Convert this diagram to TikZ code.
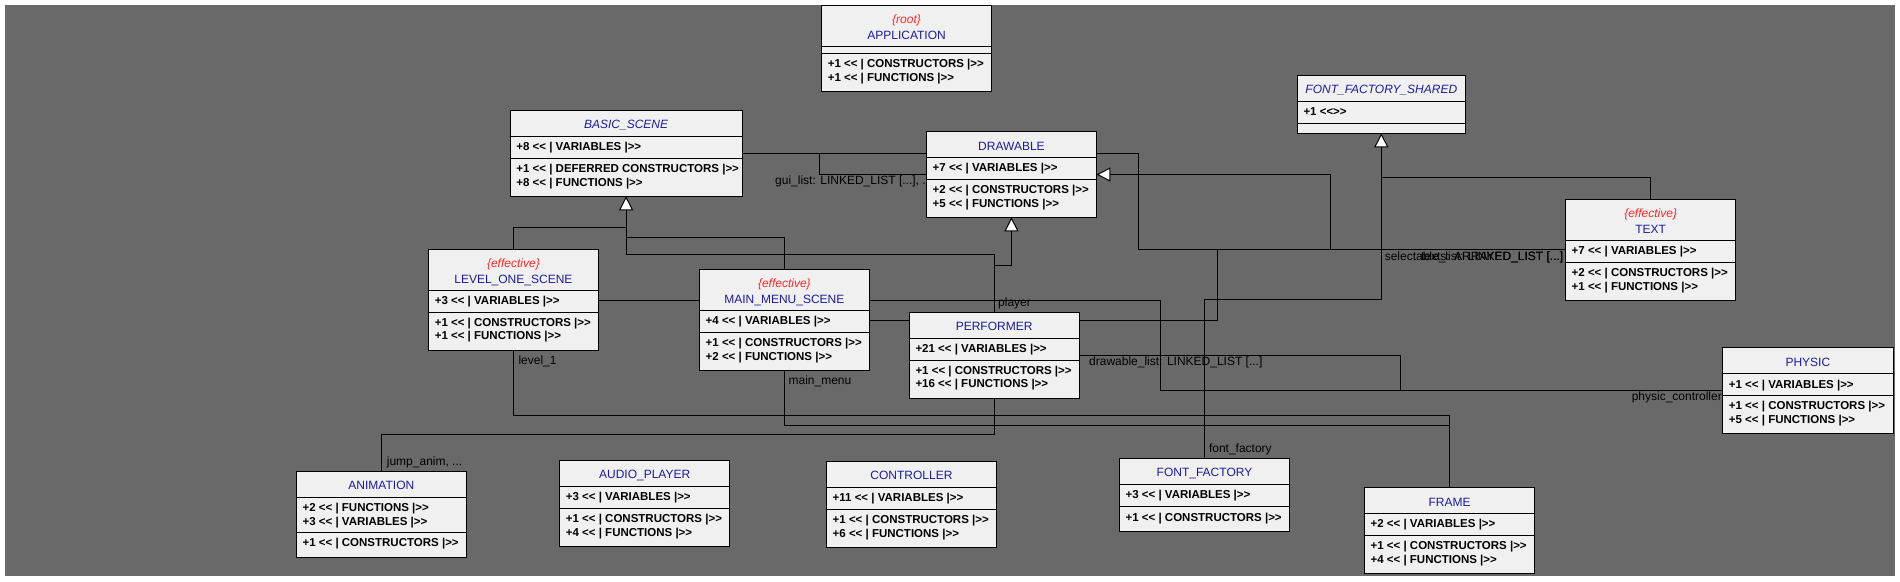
\documentclass[tikz,border=0pt]{standalone}
\usepackage{fontspec}
\setmainfont{Liberation Sans}[Ligatures=TeXOff]
\usetikzlibrary{arrows.meta}
\definecolor{canvasgray}{RGB}{105,105,105}
\definecolor{boxfill}{RGB}{240,240,240}
\definecolor{titleblue}{RGB}{28,28,155}
\definecolor{tagred}{RGB}{255,40,40}
\pgfdeclarelayer{back}
\pgfdeclarelayer{wires}
\pgfsetlayers{back,wires,main}
\tikzset{
 classbox/.style={draw=black, line width=1pt, fill=boxfill, rectangle, inner sep=0pt, outer sep=0pt},
 sepline/.style={draw=black, line width=1pt},
 wire/.style={draw=black, line width=1pt},
 inh/.style={wire, -{Triangle[length=14pt,width=14pt,fill=white]}},
 feat/.style={anchor=base west, inner sep=0pt, font=\fontsize{11.5}{13}\selectfont\bfseries, text=black},
 ttl/.style={anchor=base, inner sep=0pt, font=\fontsize{12}{14}\selectfont, text=titleblue},
 dttl/.style={anchor=base, inner sep=0pt, font=\fontsize{12}{14}\selectfont\itshape, text=titleblue},
 tag/.style={anchor=base, inner sep=0pt, font=\fontsize{12}{14}\selectfont\itshape, text=tagred},
 rolelbl/.style={inner sep=0pt, font=\fontsize{12}{14}\selectfont, text=black},
}
\newcommand\umlbox[7]{%
  \node[classbox, minimum width={#4-#2}, minimum height={#5-#3}] (#1) at ({(#2+#4)/2},{(#3+#5)/2}) {};
  \draw[sepline] (#2,#6) -- (#4,#6);
  \draw[sepline] (#2,#7) -- (#4,#7);
}
\begin{document}
\begin{tikzpicture}[x=1pt,y=-1pt]
\useasboundingbox (0,0) rectangle (1900,581);
\begin{pgfonlayer}{back}
\fill[white] (0,0) rectangle (1900,581);
\fill[canvasgray] (5,5) rectangle (1895,576);
\end{pgfonlayer}

% APPLICATION
\umlbox{app}{821.6}{5.3}{991.5}{91.3}{46.3}{53.3}
\node[tag] (app-s) at (906.55,23.3) {\{root\}};
\node[ttl] (app-n) at (906.55,39.3) {APPLICATION};
\node[feat] (app-f1) at (827.6,67.8) {+1 << | CONSTRUCTORS |>>};
\node[feat] (app-f2) at (827.6,81.0) {+1 << | FUNCTIONS |>>};

% BASIC_SCENE
\umlbox{bs}{510.2}{110.3}{742}{196.3}{136.3}{158.3}
\node[dttl] (bs-n) at (626.1,128.8) {BASIC\_SCENE};
\node[feat] (bs-f1) at (516.2,150.8) {+8 << | VARIABLES |>>};
\node[feat] (bs-f2) at (516.2,172.8) {+1 << | DEFERRED CONSTRUCTORS |>>};
\node[feat] (bs-f3) at (516.2,186.0) {+8 << | FUNCTIONS |>>};

% DRAWABLE
\umlbox{drw}{926.5}{131.7}{1096.4}{217.3}{157.3}{179.3}
\node[ttl] (drw-n) at (1011.45,150.2) {DRAWABLE};
\node[feat] (drw-f1) at (932.5,171.8) {+7 << | VARIABLES |>>};
\node[feat] (drw-f2) at (932.5,193.8) {+2 << | CONSTRUCTORS |>>};
\node[feat] (drw-f3) at (932.5,207.0) {+5 << | FUNCTIONS |>>};

% FONT_FACTORY_SHARED
\umlbox{ffs}{1297.3}{75.3}{1465.3}{133.3}{101.3}{123.3}
\node[dttl] (ffs-n) at (1381.3,93.8) {FONT\_FACTORY\_SHARED};
\node[feat] (ffs-f1) at (1303.3,115.8) {+1 <<>>};

% TEXT
\umlbox{txt}{1565.5}{199.3}{1735.8}{300.3}{240.3}{262.3}
\node[tag] (txt-s) at (1650.65,217.3) {\{effective\}};
\node[ttl] (txt-n) at (1650.65,233.3) {TEXT};
\node[feat] (txt-f1) at (1571.5,254.8) {+7 << | VARIABLES |>>};
\node[feat] (txt-f2) at (1571.5,276.8) {+2 << | CONSTRUCTORS |>>};
\node[feat] (txt-f3) at (1571.5,290.0) {+1 << | FUNCTIONS |>>};

% LEVEL_ONE_SCENE
\umlbox{lvl}{428.6}{249.3}{598.2}{350}{290.3}{312}
\node[tag] (lvl-s) at (513.4,267.3) {\{effective\}};
\node[ttl] (lvl-n) at (513.4,283.3) {LEVEL\_ONE\_SCENE};
\node[feat] (lvl-f1) at (434.6,304.8) {+3 << | VARIABLES |>>};
\node[feat] (lvl-f2) at (434.6,326.5) {+1 << | CONSTRUCTORS |>>};
\node[feat] (lvl-f3) at (434.6,339.7) {+1 << | FUNCTIONS |>>};

% MAIN_MENU_SCENE
\umlbox{mm}{699.5}{269.7}{869.2}{370.3}{310.3}{332.3}
\node[tag] (mm-s) at (784.35,287.7) {\{effective\}};
\node[ttl] (mm-n) at (784.35,303.7) {MAIN\_MENU\_SCENE};
\node[feat] (mm-f1) at (705.5,324.8) {+4 << | VARIABLES |>>};
\node[feat] (mm-f2) at (705.5,346.8) {+1 << | CONSTRUCTORS |>>};
\node[feat] (mm-f3) at (705.5,360.0) {+2 << | FUNCTIONS |>>};

% PERFORMER
\umlbox{perf}{909.3}{312.3}{1079}{398.3}{338.3}{360}
\node[ttl] (perf-n) at (994.15,330.8) {PERFORMER};
\node[feat] (perf-f1) at (915.3,352.8) {+21 << | VARIABLES |>>};
\node[feat] (perf-f2) at (915.3,374.5) {+1 << | CONSTRUCTORS |>>};
\node[feat] (perf-f3) at (915.3,387.7) {+16 << | FUNCTIONS |>>};

% PHYSIC
\umlbox{phy}{1722.7}{347.7}{1893}{433.3}{373.7}{395.3}
\node[ttl] (phy-n) at (1807.85,366.2) {PHYSIC};
\node[feat] (phy-f1) at (1728.7,388.2) {+1 << | VARIABLES |>>};
\node[feat] (phy-f2) at (1728.7,409.8) {+1 << | CONSTRUCTORS |>>};
\node[feat] (phy-f3) at (1728.7,423.0) {+5 << | FUNCTIONS |>>};

% ANIMATION
\umlbox{anim}{296.4}{471}{466.3}{557.3}{497.3}{532.3}
\node[ttl] (anim-n) at (381.35,489.5) {ANIMATION};
\node[feat] (anim-f1) at (302.4,511.8) {+2 << | FUNCTIONS |>>};
\node[feat] (anim-f2) at (302.4,525.0) {+3 << | VARIABLES |>>};
\node[feat] (anim-f3) at (302.4,546.8) {+1 << | CONSTRUCTORS |>>};

% AUDIO_PLAYER
\umlbox{aud}{559.7}{460.3}{729.6}{546.3}{486.3}{508.3}
\node[ttl] (aud-n) at (644.65,478.8) {AUDIO\_PLAYER};
\node[feat] (aud-f1) at (565.7,500.8) {+3 << | VARIABLES |>>};
\node[feat] (aud-f2) at (565.7,522.8) {+1 << | CONSTRUCTORS |>>};
\node[feat] (aud-f3) at (565.7,536.0) {+4 << | FUNCTIONS |>>};

% CONTROLLER
\umlbox{ctl}{826.5}{461.3}{996.4}{547.3}{487.3}{509.3}
\node[ttl] (ctl-n) at (911.45,479.8) {CONTROLLER};
\node[feat] (ctl-f1) at (832.5,501.8) {+11 << | VARIABLES |>>};
\node[feat] (ctl-f2) at (832.5,523.8) {+1 << | CONSTRUCTORS |>>};
\node[feat] (ctl-f3) at (832.5,537.0) {+6 << | FUNCTIONS |>>};

% FONT_FACTORY
\umlbox{ff}{1119.4}{458.3}{1289.6}{531.3}{484.3}{506.7}
\node[ttl] (ff-n) at (1204.5,476.8) {FONT\_FACTORY};
\node[feat] (ff-f1) at (1125.4,498.8) {+3 << | VARIABLES |>>};
\node[feat] (ff-f2) at (1125.4,521.2) {+1 << | CONSTRUCTORS |>>};

% FRAME
\umlbox{frm}{1364.4}{487.7}{1534.6}{573.3}{513.3}{535.3}
\node[ttl] (frm-n) at (1449.5,506.2) {FRAME};
\node[feat] (frm-f1) at (1370.4,527.8) {+2 << | VARIABLES |>>};
\node[feat] (frm-f2) at (1370.4,549.8) {+1 << | CONSTRUCTORS |>>};
\node[feat] (frm-f3) at (1370.4,563.0) {+4 << | FUNCTIONS |>>};

\begin{pgfonlayer}{wires}
% inheritance into BASIC_SCENE
\draw[inh] (bs.south |- 0,254.3) -- (bs.south);
\draw[wire] (lvl.north) |- (bs.south |- 0,227.3);
\draw[wire] (mm.north) |- (bs.south |- 0,237.3);
\draw[wire] (perf.north) |- (bs.south |- 0,254.3);
% inheritance into DRAWABLE
\draw[inh] (perf.north |- 0,265.3) -| (drw.south);
\draw[inh] (txt.west) -| (1330.2,174.5) -- (drw.east);
% clients of TEXT
\draw[wire] (drw.east |- 0,153.7) -| (1138.3,249.8) -- (txt.west);
\draw[wire] (perf.east |- 0,320) -| (1217.5,249.8);
% inheritance into FONT_FACTORY_SHARED
\draw[wire] (txt.north) |- (ffs.south |- 0,177.3);
\draw[inh] (ff.north) |- (ffs.south |- 0,299.3) -- (ffs.south);
% gui_list
\draw[wire] (bs.east |- 0,153.7) -- (drw.west |- 0,153.7);
\draw[wire] (819.5,153.7) |- (drw.west);
% scenes
\draw[wire] (lvl.east |- 0,300) -- (mm.west |- 0,300);
\draw[wire] (mm.east |- 0,320) -- (perf.west |- 0,320);
% physic_controller
\draw[wire] (mm.east |- 0,300) -| (1160.6,390.5) -- (phy.west);
\draw[wire] (perf.east) -| (1400.2,390.5);
% frame
\draw[wire] (lvl.south) |- (frm.north |- 0,415) -- (frm.north);
\draw[wire] (mm.south) |- (frm.north |- 0,425);
% animation
\draw[wire] (perf.south) |- (anim.north |- 0,434.3) -- (anim.north);

% labels
\node[rolelbl, anchor=mid west] (l-gui) at (775,182) {gui\_list: LINKED\_LIST [...], ...};
\node[rolelbl, anchor=mid east] (l-sel) at (1563.5,258.3) {selectable\_list: LINKED\_LIST [...]};
\node[rolelbl, anchor=mid east] (l-txt) at (1563.5,258.3) {texts: ARRAYED\_LIST [...]};
\node[rolelbl, anchor=mid west] (l-lvl) at (518.3,362.3) {level\_1};
\node[rolelbl, anchor=mid west] (l-mm) at (788.4,382.3) {main\_menu};
\node[rolelbl, anchor=mid west] (l-ply) at (998,304) {player};
\node[rolelbl, anchor=mid west] (l-drw) at (1089,363.3) {drawable\_list: LINKED\_LIST [...]};
\node[rolelbl, anchor=mid east] (l-phy) at (1722,398.3) {physic\_controller};
\node[rolelbl, anchor=mid west] (l-jmp) at (386.7,463.3) {jump\_anim, ...};
\node[rolelbl, anchor=mid west] (l-ff) at (1208.8,450) {font\_factory};
\end{pgfonlayer}
\end{tikzpicture}
\end{document}
